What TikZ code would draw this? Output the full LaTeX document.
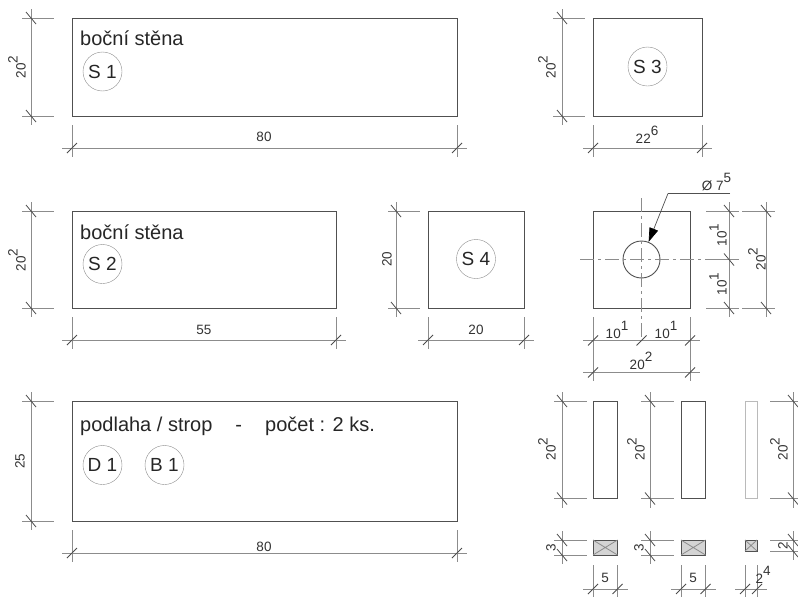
\documentclass[tikz,border=0pt]{standalone}
\usepackage{fontspec}
\setmainfont{Liberation Sans}
\usetikzlibrary{arrows.meta,calc,positioning}
\definecolor{linedark}{HTML}{505050}
\definecolor{linedim}{HTML}{8c8c8c}
\definecolor{hatchfill}{HTML}{d4d4d4}
\tikzset{
     panel/.style = {draw=linedark, line width=1pt, anchor=north west, inner sep=0pt, outer sep=0pt},
   section/.style = {panel, fill=hatchfill},
     thinp/.style = {panel, draw=linedim!60},
     title/.style = {anchor=north west, inner sep=0pt, font=\fontsize{20}{22}\selectfont, text=black!85},
     badge/.style = {draw=linedim, circle, minimum size=39pt, inner sep=0pt, thin,
                     font=\fontsize{19}{20}\selectfont, text=black!85},
       txt/.style = {inner sep=0pt, font=\fontsize{13.5}{15}\selectfont, text=black!80},
      vtxt/.style = {txt, rotate=90},
       dim/.style = {draw=linedim, line width=.8pt},
      tick/.style = {draw=black!70, line width=.8pt},
      axis/.style = {draw=linedim, line width=.8pt, dash pattern=on 14pt off 4pt on 3pt off 4pt},
}
\newcommand{\pw}[1]{\raisebox{.6em}{#1}}
% horizontal dimension: from x1 to x2 at height y, witness lines from y1 to y2
\newcommand{\hdim}[5]{%
  \draw[dim] (#1-10,#3) -- (#2+10,#3);
  \draw[dim] (#1,#4) -- (#1,#5) (#2,#4) -- (#2,#5);
  \draw[tick] (#1-5,#3+5) -- (#1+5,#3-5) (#2-5,#3+5) -- (#2+5,#3-5);
}
% vertical dimension: from y1 to y2 at x, witness lines from x1 to x2
\newcommand{\vdim}[5]{%
  \draw[dim] (#3,#1-9) -- (#3,#2+9);
  \draw[dim] (#4,#1) -- (#5,#1) (#4,#2) -- (#5,#2);
  \draw[tick] (#3-5,#1-6) -- (#3+5,#1+6) (#3-5,#2-6) -- (#3+5,#2+6);
}

\begin{document}
\begin{tikzpicture}[x=1pt,y=-1pt,>={Stealth}]
\useasboundingbox (0,0) rectangle (798,597);

%% top row
\node[panel,minimum width=385pt,minimum height=98pt] (s1) at (72,18) {};
\node[title,below right=13pt and 8pt of s1.north west] (s1t) {boční stěna};
\node[badge] (s1b) at (102.5,71.5) {S 1};
\vdim{18}{116}{31}{22}{54}
\hdim{72}{457}{148}{125}{157}
\node[vtxt] (s1h) at (17,67) {20\pw{2}};
\node[txt] (s1w) at (264,137) {80};

\node[panel,minimum width=109pt,minimum height=98pt] (s3) at (593,18) {};
\node[badge] (s3b) at (647.5,66.5) {S 3};
\vdim{18}{116}{562}{553}{585}
\hdim{593}{702}{148}{125}{157}
\node[vtxt] (s3h) at (547,67) {20\pw{2}};
\node[txt] (s3w) at (647,135) {22\pw{6}};

%% middle row
\node[panel,minimum width=264pt,minimum height=97pt] (s2) at (72,211) {};
\node[title,below right=14pt and 8pt of s2.north west] (s2t) {boční stěna};
\node[badge] (s2b) at (102.5,264) {S 2};
\vdim{211}{308}{31}{22}{54}
\hdim{72}{336}{340}{317}{349}
\node[vtxt] (s2h) at (17,260) {20\pw{2}};
\node[txt] (s2w) at (204,330) {55};

\node[panel,minimum width=96pt,minimum height=97pt] (s4) at (428,211) {};
\node[badge] (s4b) at (476,259) {S 4};
\vdim{211}{308}{396}{388}{420}
\hdim{428}{524}{340}{317}{349}
\node[vtxt] (s4h) at (387,259) {20};
\node[txt] (s4w) at (476,330) {20};

% plate with hole
\node[panel,minimum width=97pt,minimum height=97pt] (h) at (593,211) {};
\node[draw=linedark,circle,line width=.9pt,minimum size=37pt,inner sep=0pt] (hc) at (h.center) {};
\draw[axis] (h.center |- 0,198) -- (h.center |- 0,340);
\draw[axis] (580,0 |- h.center) -- (730,0 |- h.center);
\coordinate (lead) at (668,193.5);
\coordinate (leadend) at (730,193.5);
\draw[dim,draw=linedark] (leadend) -- (lead);
\draw[draw=linedark,line width=.7pt,-{Stealth[length=14pt,width=9pt,inset=0pt,black]}] (lead) -- (hc.68);
\node[txt] (hd) at (716.5,182) {Ø 7\pw{5}};
\vdim{211}{308}{729}{706}{739}
\vdim{211}{308}{766}{742}{775}
\draw[dim] (706,259.5) -- (739,259.5);
\draw[tick] (724,253.5) -- (734,265.5);
\node[vtxt] (hv1) at (718,235) {10\pw{1}};
\node[vtxt] (hv2) at (718,284) {10\pw{1}};
\node[vtxt] (hv) at (757,259) {20\pw{2}};
\hdim{593}{690}{340.5}{317}{349}
\hdim{593}{690}{372.5}{349}{381}
\draw[tick] (636.5,345.5) -- (646.5,335.5);
\node[txt] (hw1) at (617,330) {10\pw{1}};
\node[txt] (hw2) at (666,330) {10\pw{1}};
\node[txt] (hw) at (641,361) {20\pw{2}};

%% bottom row
\node[panel,minimum width=385pt,minimum height=120pt] (d) at (72,401) {};
\node[title,below right=16pt and 8pt of d.north west] (dt) {podlaha / strop\hspace{23pt}-\hspace{23pt}počet : 2 ks.};
\node[badge] (db) at (102.5,465) {D 1};
\node[badge] (bb) at (164.5,465) {B 1};
\vdim{401}{521}{31}{22}{54}
\hdim{72}{457}{553}{530}{562}
\node[vtxt] (dh) at (20,461) {25};
\node[txt] (dw) at (264,547) {80};

% edge strips
\node[panel,minimum width=24.5pt,minimum height=97.5pt] (e1) at (593,401) {};
\node[panel,minimum width=24.5pt,minimum height=97.5pt] (e2) at (681,401) {};
\node[thinp,minimum width=12pt,minimum height=97.5pt] (e3) at (745,401) {};
\vdim{401}{498.5}{562}{554}{587}
\vdim{401}{498.5}{650}{641}{674}
\vdim{401}{498.5}{793}{770}{800}
\node[vtxt] (e1h) at (547,449) {20\pw{2}};
\node[vtxt] (e2h) at (636,449) {20\pw{2}};
\node[vtxt] (e3h) at (779,449) {20\pw{2}};

% sections
\foreach \n/\x/\w/\h in {c1/593/24.5/15,c2/681/24.5/15,c3/745/12/11}{
  \node[section,minimum width=\w pt,minimum height=\h pt] (\n) at (\x,540) {};
  \draw[dim] (\n.north west) -- (\n.south east) (\n.north east) -- (\n.south west);
}
\vdim{540}{555}{562}{554}{587}
\vdim{540}{555}{650}{641}{674}
\vdim{540}{551}{793}{770}{800}
\node[vtxt] (c1h) at (551,548) {3};
\node[vtxt] (c2h) at (639,548) {3};
\node[vtxt] (c3h) at (783,546) {2};
\hdim{593}{617.5}{589}{565}{597}
\hdim{681}{705.5}{589}{565}{597}
\hdim{745}{757}{589}{565}{597}
\node[txt] (c1w) at (605,578) {5};
\node[txt] (c2w) at (693,578) {5};
\node[txt] (c3w) at (763,575) {2\pw{4}};
\end{tikzpicture}
\end{document}
